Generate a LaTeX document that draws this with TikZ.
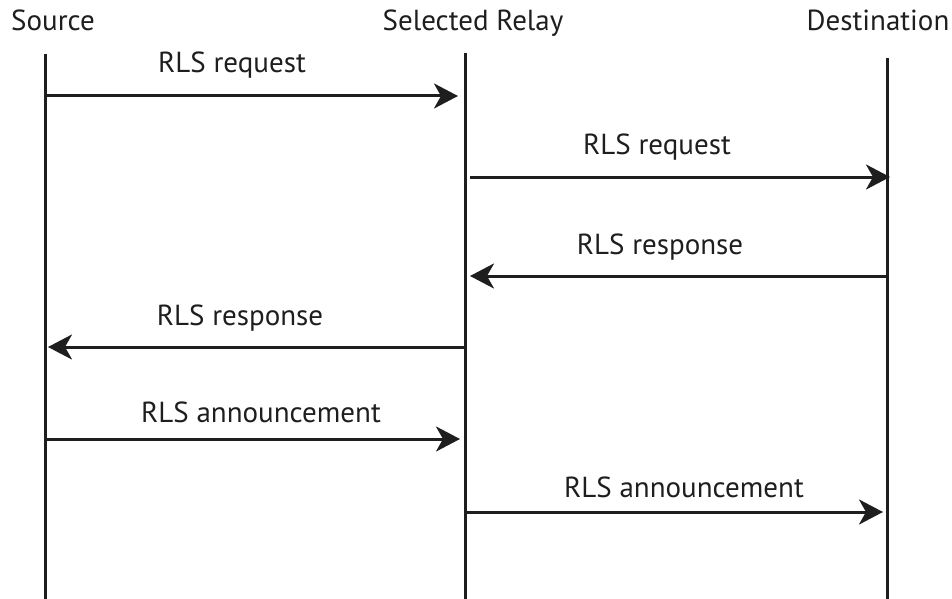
\documentclass[tikz,border=0pt]{standalone}
\usepackage{fontspec}
\setmainfont{PT Sans}
\usetikzlibrary{arrows.meta}
\definecolor{ink}{HTML}{1E1E1E}
\tikzset{
  lifeline/.style={draw=ink, line width=3pt},
  msg/.style={draw=ink, line width=3pt, -{Stealth[length=24pt, width=25pt, inset=7pt]}},
  head/.style={anchor=base, inner sep=0pt, font=\fontsize{29}{34}\selectfont, text=ink},
  lbl/.style={anchor=base, inner sep=0pt, font=\fontsize{29}{34}\selectfont, text=ink}
}
\begin{document}
\begin{tikzpicture}[x=1pt, y=-1pt]
  \useasboundingbox (0,0) rectangle (952,599);

  % participants
  \node[head] (src) at (53,31) {Source};
  \node[head] (rly) at (473,31) {Selected Relay};
  \node[head] (dst) at (878,31) {Destination};

  % lifelines
  \coordinate (srcTop) at (45,54);   \coordinate (srcBot) at (45,599);
  \coordinate (rlyTop) at (465,53);  \coordinate (rlyBot) at (465,599);
  \coordinate (dstTop) at (887,58);  \coordinate (dstBot) at (887,599);
  \draw[lifeline] (srcTop) -- (srcBot);
  \draw[lifeline] (rlyTop) -- (rlyBot);
  \draw[lifeline] (dstTop) -- (dstBot);

  % message end points
  \coordinate (m1a) at (45,96);   \coordinate (m1b) at (458,96);
  \coordinate (m2a) at (470,177); \coordinate (m2b) at (890,177);
  \coordinate (m3a) at (887,276); \coordinate (m3b) at (470,276);
  \coordinate (m4a) at (465,347); \coordinate (m4b) at (48,347);
  \coordinate (m5a) at (45,439);  \coordinate (m5b) at (460,439);
  \coordinate (m6a) at (465,512); \coordinate (m6b) at (883,512);

  % messages
  \draw[msg] (m1a) -- (m1b);
  \draw[msg] (m2a) -- (m2b);
  \draw[msg] (m3a) -- (m3b);
  \draw[msg] (m4a) -- (m4b);
  \draw[msg] (m5a) -- (m5b);
  \draw[msg] (m6a) -- (m6b);

  % message labels
  \node[lbl] (l1) at (232,73)  {RLS request};
  \node[lbl] (l2) at (657,154) {RLS request};
  \node[lbl] (l3) at (660,254) {RLS response};
  \node[lbl] (l4) at (240,325) {RLS response};
  \node[lbl] (l5) at (261,422) {RLS announcement};
  \node[lbl] (l6) at (684,497) {RLS announcement};
\end{tikzpicture}
\end{document}
